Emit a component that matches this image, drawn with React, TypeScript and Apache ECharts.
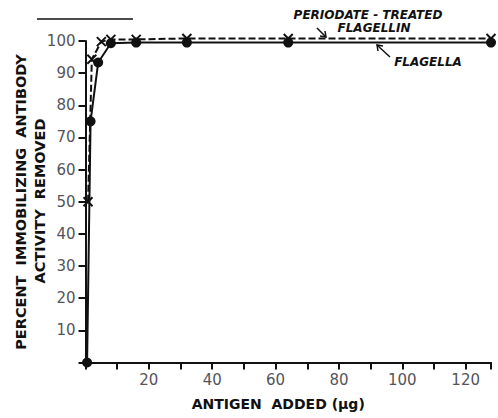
import React, { useEffect, useRef } from "react";
import * as echarts from "echarts";

const flagellaX = [0.5, 1.6, 4, 8, 16, 32, 64, 128];
const flagellaY = [0, 75, 93.3, 99.3, 99.5, 99.5, 99.5, 99.5];
const periodateX = [0.8, 2, 5, 8, 16, 32, 64, 128];
const periodateY = [50, 94.3, 99.8, 100.5, 100.5, 100.8, 100.8, 100.8];
const xLabels = [20, 40, 60, 80, 100, 120];
const yLabels = [10, 20, 30, 40, 50, 60, 70, 80, 90, 100];

const FONT = "'DejaVu Sans', sans-serif";

export default function App() {
  const ref = useRef<HTMLDivElement>(null);
  useEffect(() => {
    const chart = echarts.init(ref.current!, null, { renderer: "svg" });
    const toPairs = (xs: number[], ys: number[]) => xs.map((x, i) => [x, ys[i]]);
    chart.setOption({
      animation: false,
      textStyle: { fontFamily: FONT },
      grid: { left: 85.5, right: 7, top: 41, bottom: 55.5 },
      xAxis: {
        type: "value",
        min: 0,
        max: 128,
        interval: 10,
        splitLine: { show: false },
        axisLine: { show: true, lineStyle: { color: "#111", width: 2 } },
        axisTick: { show: true, length: 7, lineStyle: { color: "#111", width: 2 } },
        axisLabel: {
          formatter: (v: number) => (xLabels.includes(v) ? String(v) : ""),
          fontSize: 15,
          margin: 10,
        },
        name: "ANTIGEN  ADDED (\u03bcg)",
        nameLocation: "middle",
        nameGap: 34,
        nameTextStyle: { color: "#111", fontSize: 14, fontWeight: "bold", padding: [0, 20, 0, 0] },
      },
      yAxis: {
        type: "value",
        min: 0,
        max: 100,
        interval: 10,
        splitLine: { show: false },
        axisLine: { show: true, lineStyle: { color: "#111", width: 2 } },
        axisTick: { show: true, length: 7, lineStyle: { color: "#111", width: 2 } },
        axisLabel: {
          formatter: (v: number) => (yLabels.includes(v) ? String(v) : ""),
          fontSize: 15,
          margin: 10,
        },
      },
      graphic: [
        { type: "line", shape: { x1: 37, y1: 19, x2: 133, y2: 19 }, style: { stroke: "#111", lineWidth: 1.5 } },
        {
          type: "text", x: 21, y: 202, rotation: Math.PI / 2, origin: [0, 0],
          style: { text: "PERCENT  IMMOBILIZING  ANTIBODY", fill: "#111", font: `bold 14.5px ${FONT}`, align: "center", verticalAlign: "middle" },
        },
        {
          type: "text", x: 40, y: 201, rotation: Math.PI / 2, origin: [0, 0],
          style: { text: "ACTIVITY  REMOVED", fill: "#111", font: `bold 14.5px ${FONT}`, align: "center", verticalAlign: "middle" },
        },
        {
          type: "text", x: 368, y: 15,
          style: { text: "PERIODATE - TREATED", fill: "#111", font: `italic bold 12px ${FONT}`, align: "center", verticalAlign: "middle" },
        },
        {
          type: "text", x: 374, y: 28,
          style: { text: "FLAGELLIN", fill: "#111", font: `italic bold 12px ${FONT}`, align: "center", verticalAlign: "middle" },
        },
        {
          type: "text", x: 428, y: 62,
          style: { text: "FLAGELLA", fill: "#111", font: `italic bold 12px ${FONT}`, align: "center", verticalAlign: "middle" },
        },
        { type: "line", shape: { x1: 317, y1: 28, x2: 326, y2: 37 }, style: { stroke: "#111", lineWidth: 1.5 } },
        { type: "polyline", shape: { points: [[320, 36], [326, 37], [325, 31]] }, style: { stroke: "#111", lineWidth: 1.5, fill: null } },
        { type: "line", shape: { x1: 390, y1: 57, x2: 377, y2: 45 }, style: { stroke: "#111", lineWidth: 1.5 } },
        { type: "polyline", shape: { points: [[378, 51], [377, 45], [383, 46]] }, style: { stroke: "#111", lineWidth: 1.5, fill: null } },
      ],
      series: [
        {
          name: "Flagella",
          type: "line",
          clip: false,
          data: toPairs(flagellaX, flagellaY),
          symbol: "circle",
          symbolSize: 10,
          lineStyle: { color: "#111", width: 2 },
          itemStyle: { color: "#111" },
        },
        {
          name: "Periodate-treated flagellin",
          type: "line",
          clip: false,
          data: toPairs(periodateX, periodateY),
          symbol: "path://M0,0L10,10M10,0L0,10",
          symbolSize: 9,
          lineStyle: { color: "#111", width: 2, type: [7, 3] },
          itemStyle: { color: "none", borderColor: "#111", borderWidth: 2 },
        },
      ],
    });
    return () => chart.dispose();
  }, []);
  return <div ref={ref} style={{ position: "absolute", left: 0, top: 0, width: 498, height: 418, background: "#fff" }} />;
}
